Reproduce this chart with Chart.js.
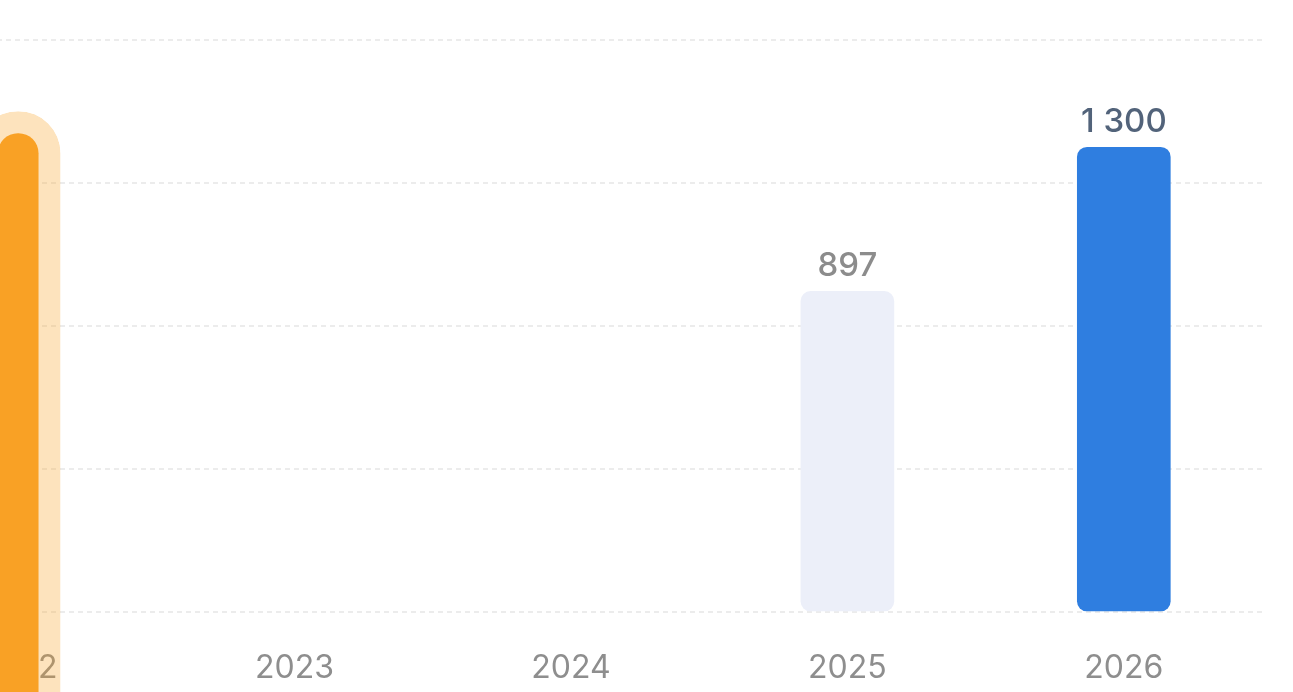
<!DOCTYPE html>
<html>
<head>
<meta charset="utf-8">
<script src="https://cdn.jsdelivr.net/npm/chart.js@4.4.1/dist/chart.umd.min.js"></script>
<style>
  html, body { margin: 0; padding: 0; background: #fff; overflow: hidden; }
  #wrap { position: absolute; left: -120px; top: 0; width: 1382px; height: 692px; }
</style>
</head>
<body>
<div id="wrap"><canvas id="salesChart"></canvas></div>
<script>
// данные графика
const years = ['2022', '2023', '2024', '2025', '2026'];
const values = [1400, null, null, 897, 1300];
const activeIndex = 0;          // выделенный (увеличенный) столбик
const activeFrom = -250;        // выделенный столбик уходит ниже оси
const barColors = ['#f9a125', '#ffffff', '#ffffff', '#eceff9', '#2f7ee0'];
const labelColors = ['#8a8a8a', '#8a8a8a', '#8a8a8a', '#8c8c8c', '#52637a'];
const yTicks = [0, 400, 800, 1200, 1600];

function formatNum(v) {
    return String(v).replace(/\B(?=(\d{3})+(?!\d))/g, ' ');
}

// подписи над столбиками
const valueLabels = {
    id: 'valueLabels',
    afterDatasetsDraw(chart) {
        const ctx = chart.ctx;
        const meta = chart.getDatasetMeta(1);
        ctx.save();
        ctx.font = '500 33px Inter';
        ctx.textAlign = 'center';
        ctx.textBaseline = 'alphabetic';
        meta.data.forEach((bar, i) => {
            if (values[i] == null || i === activeIndex) return;
            ctx.fillStyle = labelColors[i];
            ctx.fillText(formatNum(values[i]), bar.x, bar.y - 15);
        });
        ctx.restore();
    }
};

const ctx = document.getElementById('salesChart').getContext('2d');
new Chart(ctx, {
    type: 'bar',
    data: {
        labels: years,
        datasets: [{
            // выделенный столбик
            data: values.map((v, i) => i === activeIndex ? [activeFrom, v] : null),
            backgroundColor: barColors[activeIndex],
            borderColor: 'rgba(249, 161, 37, 0.3)',
            borderWidth: 22,
            borderSkipped: 'start',
            borderRadius: { topLeft: 58, topRight: 58, bottomLeft: 0, bottomRight: 0 },
            barThickness: 84,
            grouped: false,
            clip: false
        }, {
            data: values.map((v, i) => i === activeIndex ? null : v),
            backgroundColor: barColors,
            borderWidth: 0,
            borderSkipped: false,
            borderRadius: 10,
            barThickness: 93,
            grouped: false
        }]
    },
    options: {
        responsive: true,
        maintainAspectRatio: false,
        animation: false,
        layout: { padding: { top: 40, right: 0, bottom: 0, left: 0 } },
        plugins: {
            legend: { display: false },
            tooltip: { enabled: false }
        },
        scales: {
            x: {
                grid: { display: false, drawTicks: false },
                border: { display: false },
                ticks: {
                    color: '#8e8e8e',
                    font: { family: 'Inter', size: 32 },
                    padding: 37
                },
                afterFit: s => { s.height = 80; }
            },
            y: {
                min: 0,
                max: 1600,
                afterBuildTicks: s => { s.ticks = yTicks.map(v => ({ value: v })); },
                ticks: { display: false },
                border: { display: false, dash: [5, 4] },
                grid: {
                    color: '#ececec',
                    lineWidth: 2,
                    drawTicks: false
                },
                afterFit: s => { s.width = 0; }
            }
        }
    },
    plugins: [valueLabels]
});
</script>
</body>
</html>
